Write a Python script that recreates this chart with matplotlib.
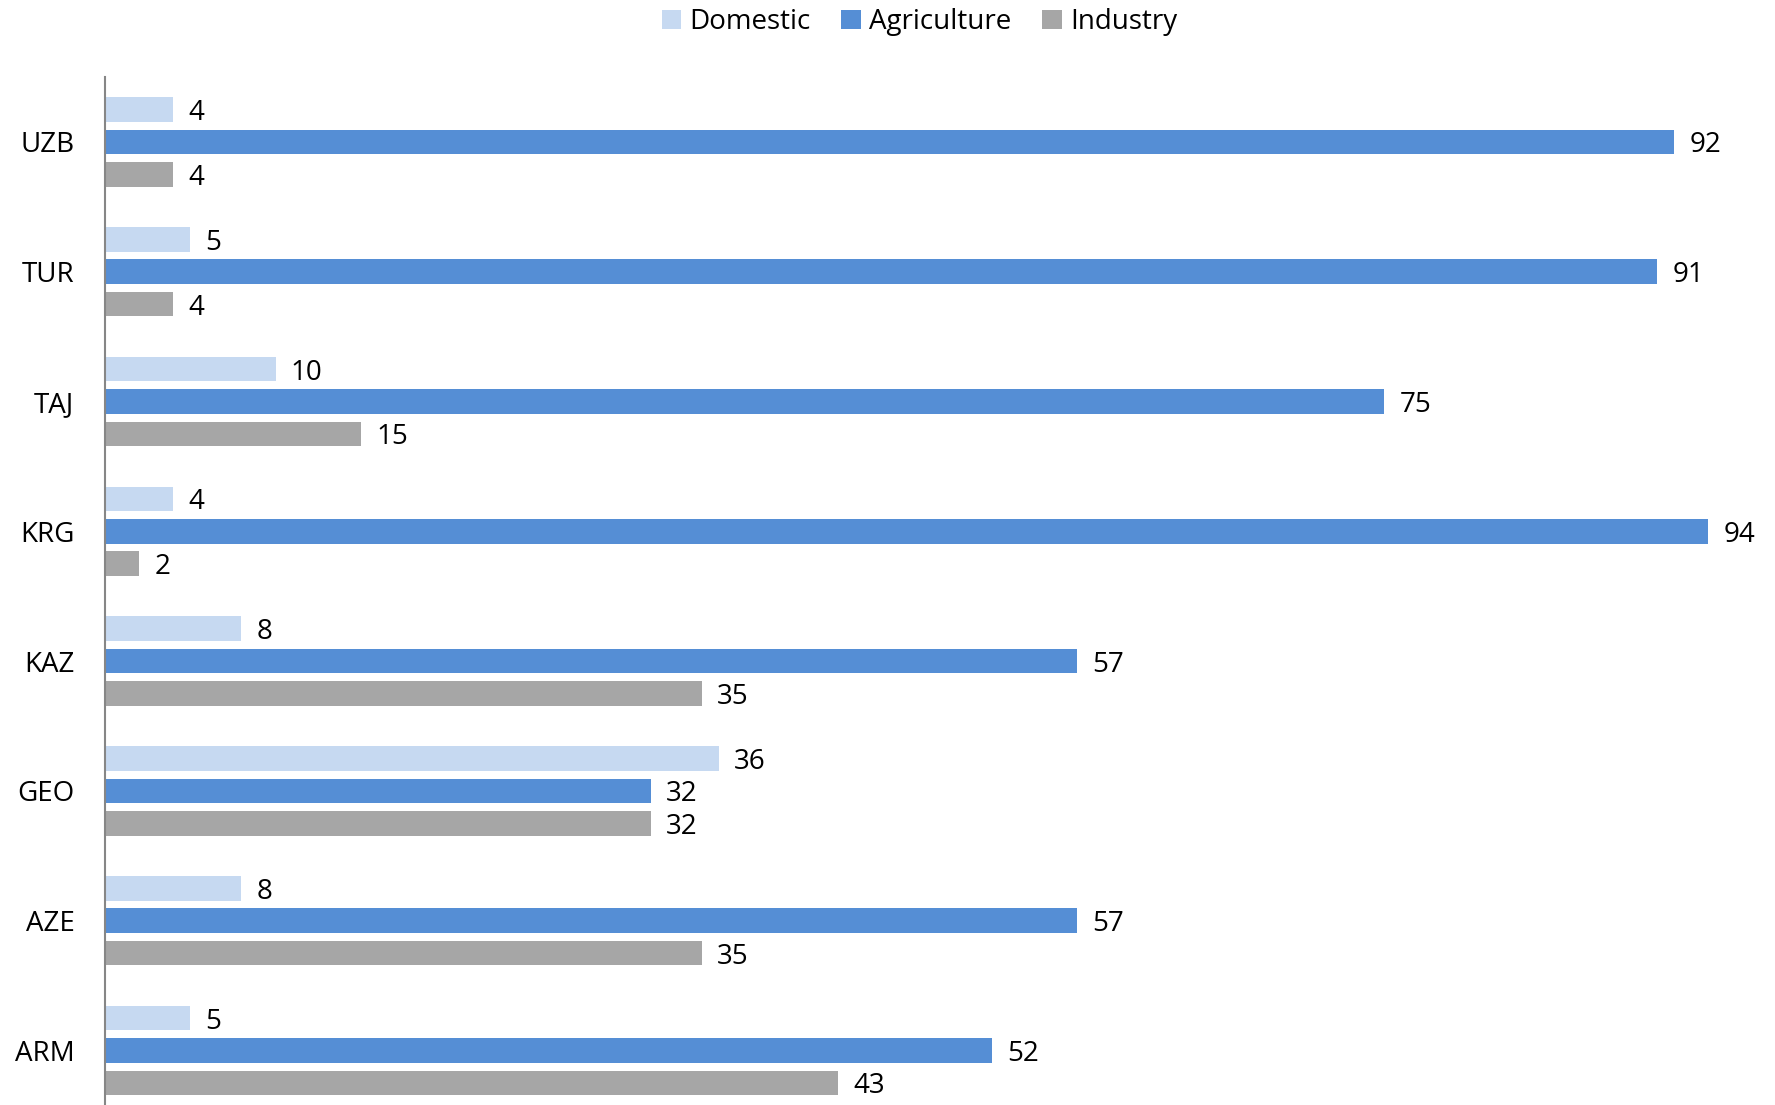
import matplotlib
matplotlib.use("Agg")
import matplotlib.pyplot as plt
import numpy as np

countries = ["ARM", "AZE", "GEO", "KAZ", "KRG", "TAJ", "TUR", "UZB"]
domestic = [5, 8, 36, 8, 4, 10, 5, 4]
agriculture = [52, 57, 32, 57, 94, 75, 91, 92]
industry = [43, 35, 32, 35, 2, 15, 4, 4]
series_names = ["Domestic", "Agriculture", "Industry"]
colors = ["#C6D9F1", "#558ED5", "#A6A6A6"]

plt.rcParams['font.family'] = ['Open Sans', 'DejaVu Sans']

fig = plt.figure(figsize=(17.75, 11.05), dpi=100)
ax = fig.add_axes([105/1775, 0.0, 1 - 105/1775 - 9/1775, 1 - 77/1105])

y = np.arange(len(countries))
h = 0.19
offs = [0.25, 0.0, -0.25]
for vals, name, col, off in zip([domestic, agriculture, industry], series_names, colors, offs):
    bars = ax.barh(y + off, vals, height=h, color=col, label=name)
    for b, v in zip(bars, vals):
        ax.text(b.get_width() + 0.9, b.get_y() + b.get_height()/2, str(v),
                va='center_baseline', ha='left', fontsize=20, color='#000000')

ax.set_xlim(0, 97.4)
ax.set_ylim(-0.42, 7.5)
ax.set_yticks(y)
ax.set_yticklabels(countries, fontsize=20)
ax.tick_params(axis='y', length=0, pad=22)
ax.set_xticks([])
for s in ['top', 'right', 'bottom']:
    ax.spines[s].set_visible(False)
ax.spines['left'].set_color('#868686')
ax.spines['left'].set_linewidth(1.5)

fig.legend(loc='upper center', bbox_to_anchor=(0.518, 1.015), ncol=3, frameon=False,
           fontsize=20, handlelength=0.7, handleheight=0.7, handletextpad=0.3,
           columnspacing=1.1)

fig.savefig("out.png", dpi=100)
